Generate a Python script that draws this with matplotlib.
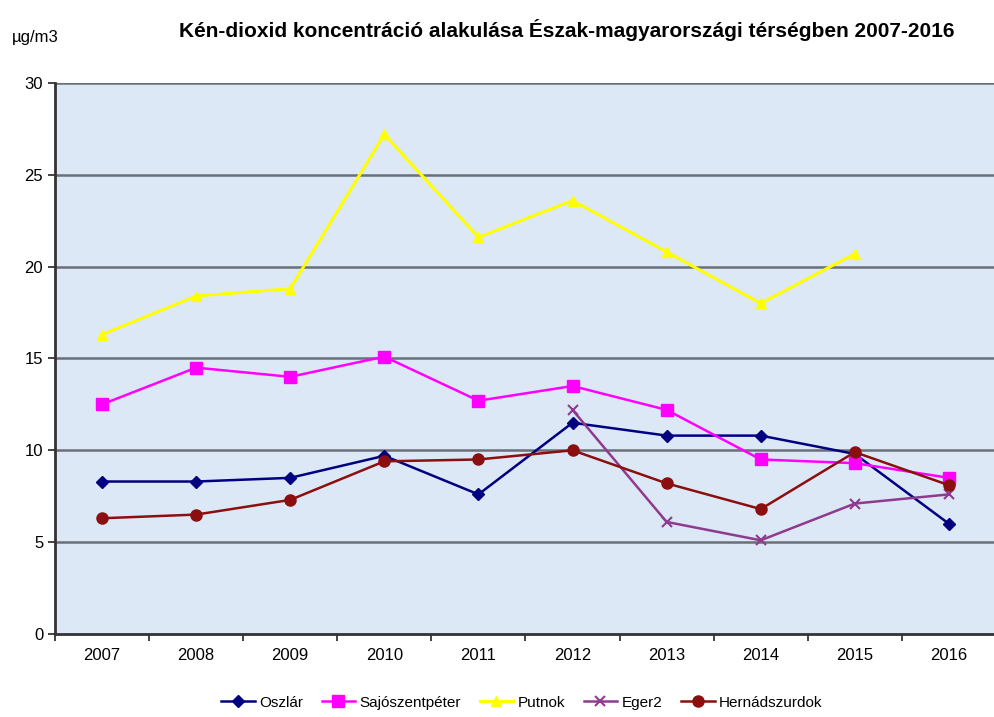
import numpy as np
import matplotlib.pyplot as plt

plt.rcParams['font.family'] = ['Liberation Sans', 'DejaVu Sans']

# -----------------------------
# Data (µg/m3)
# -----------------------------
years = ["2007", "2008", "2009", "2010", "2011", "2012", "2013", "2014", "2015", "2016"]

oszlar = [8.3, 8.3, 8.5, 9.7, 7.6, 11.5, 10.8, 10.8, 9.8, 6.0]
sajoszentpeter = [12.5, 14.5, 14.0, 15.1, 12.7, 13.5, 12.2, 9.5, 9.3, 8.5]
putnok = [16.3, 18.4, 18.8, 27.2, 21.6, 23.6, 20.8, 18.0, 20.7, None]
eger2 = [None, None, None, None, None, 12.2, 6.1, 5.1, 7.1, 7.6]
hernadszurdok = [6.3, 6.5, 7.3, 9.4, 9.5, 10.0, 8.2, 6.8, 9.9, 8.1]


def as_array(vals):
    return np.array([np.nan if v is None else v for v in vals], dtype=float)


x = np.arange(len(years))

fig = plt.figure(figsize=(9.94, 7.17), dpi=100)
ax = fig.add_axes([0.0553, 0.1158, 0.9467, 0.7685])
ax.set_facecolor("#dde8f6")

# horizontal grid
for v in [5, 10, 15, 20, 25, 30]:
    ax.axhline(v, color="#6b7078", lw=1.8, zorder=1)

ax.plot(x, as_array(oszlar), color="#000080", marker="D", ms=6, lw=1.8,
        label="Oszlár", zorder=3)
ax.plot(x, as_array(sajoszentpeter), color="#ff00ff", marker="s", ms=8, lw=1.8,
        label="Sajószentpéter", zorder=3)
ax.plot(x, as_array(putnok), color="#ffff00", marker="^", ms=7, lw=2.2,
        label="Putnok", zorder=3)
ax.plot(x, as_array(eger2), color="#8e3a8e", marker="x", ms=7, mew=1.5, lw=1.8,
        label="Eger2", zorder=3)
ax.plot(x, as_array(hernadszurdok), color="#8b0f0f", marker="o", ms=8, lw=1.8,
        label="Hernádszurdok", zorder=3)

ax.set_xlim(-0.5, len(years) - 0.5)
ax.set_ylim(0, 30)
ax.set_yticks([0, 5, 10, 15, 20, 25, 30])
ax.set_xticks(x)
ax.set_xticklabels(years, fontsize=12)
ax.tick_params(axis="x", length=0, pad=10)
ax.set_xticks(np.arange(-0.5, len(years), 1), minor=True)
ax.tick_params(axis="x", which="minor", length=5, width=1.2, color="#222222")
ax.tick_params(axis="y", labelsize=12, length=5, width=1.2, color="#222222")

for side in ["top", "right"]:
    ax.spines[side].set_visible(False)
ax.spines["left"].set_linewidth(2)
ax.spines["bottom"].set_linewidth(2)
ax.spines["left"].set_color("#333333")
ax.spines["bottom"].set_color("#333333")

fig.text(0.57, 0.958, "Kén-dioxid koncentráció alakulása Észak-magyarországi térségben 2007-2016",
         ha="center", va="center", fontsize=15, fontweight="bold")
fig.text(0.012, 0.948, "µg/m3", ha="left", va="center", fontsize=12)

fig.legend(loc="center", bbox_to_anchor=(0.525, 0.02), ncol=5, frameon=False,
           fontsize=11, handlelength=2.2, columnspacing=1.2, handletextpad=0.3)

fig.savefig("out.png", dpi=100)
